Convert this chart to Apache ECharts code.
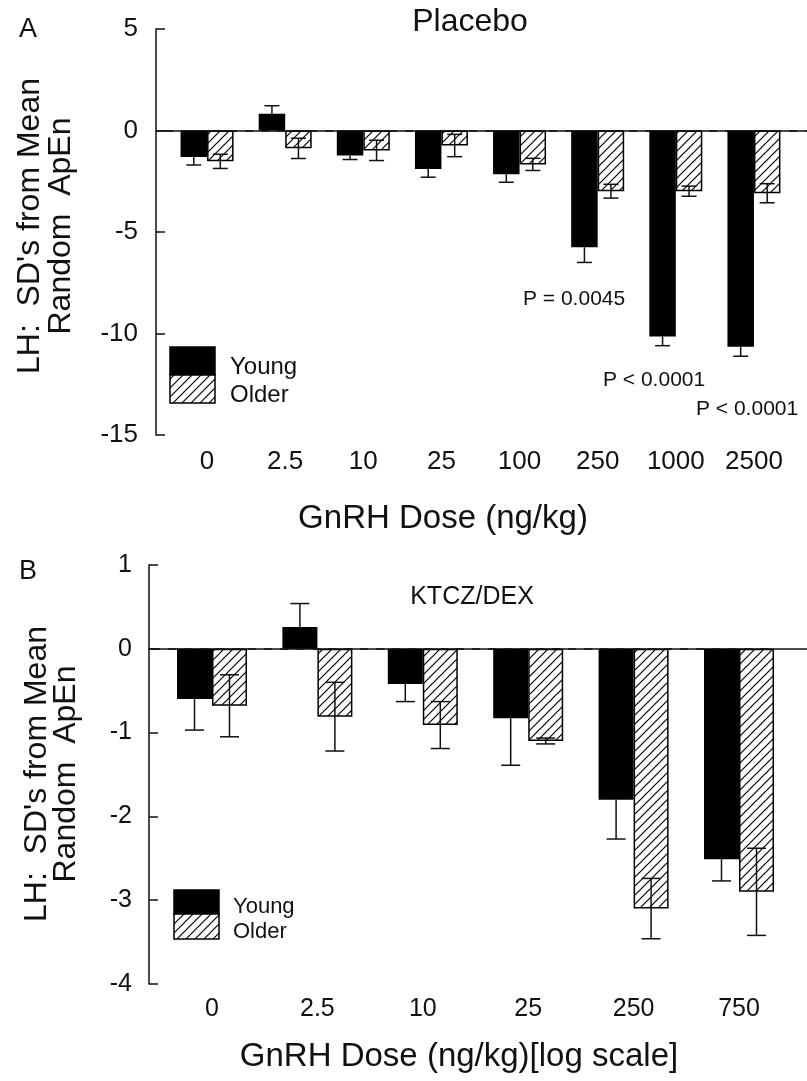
<!DOCTYPE html>
<html>
<head>
<meta charset="utf-8">
<script src="https://cdn.jsdelivr.net/npm/echarts@6/dist/echarts.min.js"></script>
<style>
  html, body { margin: 0; padding: 0; background: #fff; }
  #chart { width: 807px; height: 1081px; }
</style>
</head>
<body>
<div id="chart"></div>
<script>
// 数据
const dosesA = ['0', '2.5', '10', '25', '100', '250', '1000', '2500'];
const youngA = [-1.3, 0.82, -1.23, -1.9, -2.15, -5.75, -10.15, -10.65];
const youngErrA = [0.4, 0.4, 0.2, 0.4, 0.4, 0.75, 0.45, 0.47];
const olderA = [-1.52, -0.88, -0.98, -0.74, -1.67, -2.99, -2.99, -3.09];
const olderErrA = [0.35, 0.5, 0.5, 0.55, 0.3, 0.34, 0.25, 0.47];

const dosesB = ['0', '2.5', '10', '25', '250', '750'];
const youngB = [-0.6, 0.26, -0.42, -0.83, -1.8, -2.51];
const youngErrB = [0.37, 0.28, 0.21, 0.56, 0.47, 0.26];
const olderB = [-0.68, -0.81, -0.91, -1.1, -3.1, -2.9];
const olderErrB = [0.37, 0.41, 0.28, 0.035, 0.36, 0.52];

const yRangeA = { min: -15, max: 5, interval: 5 };
const yRangeB = { min: -4, max: 1, interval: 1 };

const FONT = '"Liberation Sans", Arial, sans-serif';
const INK = '#111';

// 斜线填充
function hatch(step, lw) {
  const c = document.createElement('canvas');
  c.width = c.height = step;
  const g = c.getContext('2d');
  g.fillStyle = '#fff';
  g.fillRect(0, 0, step, step);
  g.strokeStyle = '#000';
  g.lineWidth = lw;
  g.beginPath();
  g.moveTo(0, step); g.lineTo(step, 0);
  g.moveTo(-step / 2, step / 2); g.lineTo(step / 2, -step / 2);
  g.moveTo(step / 2, step * 1.5); g.lineTo(step * 1.5, step / 2);
  g.stroke();
  return { image: c, repeat: 'repeat' };
}
const hatchFill = hatch(9, 1.2);

// 误差线 (outwardOnly: 黑色柱子只画外侧一半)
function errRender(side, barW, cap, outwardOnly) {
  return function (params, api) {
    const i = api.value(0), v = api.value(1), e = api.value(2);
    const out = v >= 0 ? v + e : v - e;
    const inn = outwardOnly ? v : (v >= 0 ? v - e : v + e);
    const p1 = api.coord([i, out]);
    const p0 = api.coord([i, inn]);
    const x = p1[0] + side * barW / 2;
    const st = { stroke: INK, lineWidth: 1.5 };
    const kids = [
      { type: 'line', shape: { x1: x, y1: p0[1], x2: x, y2: p1[1] }, style: st },
      { type: 'line', shape: { x1: x - cap / 2, y1: p1[1], x2: x + cap / 2, y2: p1[1] }, style: st }
    ];
    if (!outwardOnly) {
      kids.push({ type: 'line', shape: { x1: x - cap / 2, y1: p0[1], x2: x + cap / 2, y2: p0[1] }, style: st });
    }
    return { type: 'group', children: kids };
  };
}

function catAxis(grid, data, fontSize, margin) {
  return {
    type: 'category', gridIndex: grid, data: data,
    axisLine: { show: false },
    axisTick: { inside: true, alignWithLabel: true, length: 9, lineStyle: { color: INK, width: 1.5 } },
    axisLabel: { fontSize: fontSize, fontFamily: FONT, color: INK, margin: margin }
  };
}
function frameX(grid) {
  return {
    type: 'value', gridIndex: grid, min: 0, max: 1,
    axisLine: { show: true, lineStyle: { color: INK, width: 1.5 } },
    axisTick: { show: false }, axisLabel: { show: false }, splitLine: { show: false }
  };
}
function hiddenY(grid, r) {
  return { type: 'value', gridIndex: grid, min: r.min, max: r.max, show: false, splitLine: { show: false } };
}
function frameY(grid, r, fontSize, margin) {
  return {
    type: 'value', gridIndex: grid, min: r.min, max: r.max, interval: r.interval,
    axisLine: { show: true, lineStyle: { color: INK, width: 1.5 } },
    axisTick: { show: true, inside: true, length: 9, lineStyle: { color: INK, width: 1.5 } },
    axisLabel: { fontSize: fontSize, fontFamily: FONT, color: INK, margin: margin },
    splitLine: { show: false }
  };
}

function barSeries(x, y, data, fill, w) {
  return {
    type: 'bar', xAxisIndex: x, yAxisIndex: y, data: data,
    barWidth: w, barGap: '0%',
    itemStyle: { color: fill, borderColor: '#000', borderWidth: 1.5 },
    silent: true, z: 2
  };
}
function errSeries(x, y, vals, errs, side, w, cap, outwardOnly) {
  return {
    type: 'custom', xAxisIndex: x, yAxisIndex: y,
    data: vals.map((v, i) => [i, v, errs[i]]),
    renderItem: errRender(side, w, cap, outwardOnly), silent: true, z: 5
  };
}
const dashStyle = { type: [8, 8], color: INK, width: 1.5 };

const BW_A = 26.5, BW_B = 35;

const option = {
  animation: false,
  backgroundColor: '#fff',
  grid: [
    { left: 168, width: 625, top: 29, height: 406 },
    { left: 156, right: 0, top: 29, height: 406 },
    { left: 159.3, width: 632.4, top: 565, height: 419 },
    { left: 149, right: 0, top: 565, height: 419 }
  ],
  xAxis: [
    catAxis(0, dosesA, 26, 14),
    frameX(1),
    catAxis(2, dosesB, 25, 13),
    frameX(3)
  ],
  yAxis: [
    hiddenY(0, yRangeA),
    frameY(1, yRangeA, 26, 18),
    hiddenY(2, yRangeB),
    frameY(3, yRangeB, 25, 17)
  ],
  series: [
    barSeries(0, 0, youngA, '#000', BW_A),
    barSeries(0, 0, olderA, hatchFill, BW_A),
    errSeries(0, 0, youngA, youngErrA, -1, BW_A, 15, true),
    errSeries(0, 0, olderA, olderErrA, 1, BW_A, 15, false),
    {
      type: 'line', xAxisIndex: 1, yAxisIndex: 1, data: [], silent: true,
      markLine: { symbol: 'none', silent: true, label: { show: false }, lineStyle: dashStyle,
        data: [[{ coord: [0.014, 0] }, { coord: [1, 0] }]] }
    },
    barSeries(2, 2, youngB, '#000', BW_B),
    barSeries(2, 2, olderB, hatchFill, BW_B),
    errSeries(2, 2, youngB, youngErrB, -1, BW_B, 19, true),
    errSeries(2, 2, olderB, olderErrB, 1, BW_B, 19, false),
    {
      type: 'line', xAxisIndex: 3, yAxisIndex: 3, data: [], silent: true,
      markLine: { symbol: 'none', silent: true, label: { show: false }, lineStyle: dashStyle,
        data: [[{ coord: [0.005, 0] }, { coord: [0.952, 0] }]] }
    }
  ],
  graphic: [
    // 面板标记与标题
    { type: 'text', left: 19, top: 16, style: { text: 'A', font: '27px ' + FONT, fill: INK } },
    { type: 'text', left: 19, top: 558, style: { text: 'B', font: '27px ' + FONT, fill: INK } },
    { type: 'text', x: 470, y: 22, style: { text: 'Placebo', font: '32px ' + FONT, fill: INK, align: 'center', verticalAlign: 'middle' } },
    { type: 'text', x: 472, y: 597, style: { text: 'KTCZ/DEX', font: '25px ' + FONT, fill: INK, align: 'center', verticalAlign: 'middle' } },
    // 轴标题
    { type: 'text', x: 443, y: 519, style: { text: 'GnRH Dose (ng/kg)', font: '33px ' + FONT, fill: INK, align: 'center', verticalAlign: 'middle' } },
    { type: 'text', x: 459, y: 1057, style: { text: 'GnRH Dose (ng/kg)[log scale]', font: '33px ' + FONT, fill: INK, align: 'center', verticalAlign: 'middle' } },
    { type: 'text', x: 46, y: 226, rotation: Math.PI / 2,
      style: { text: "LH:  SD's from Mean\nRandom  ApEn", font: '32px ' + FONT, lineHeight: 31, fill: INK, align: 'center', verticalAlign: 'middle' } },
    { type: 'text', x: 52, y: 774, rotation: Math.PI / 2,
      style: { text: "LH:  SD's from Mean\nRandom  ApEn", font: '32px ' + FONT, lineHeight: 29, fill: INK, align: 'center', verticalAlign: 'middle' } },
    // P 值
    { type: 'text', x: 523, y: 299, style: { text: 'P = 0.0045', font: '21px ' + FONT, fill: INK, verticalAlign: 'middle' } },
    { type: 'text', x: 603, y: 380, style: { text: 'P < 0.0001', font: '21px ' + FONT, fill: INK, verticalAlign: 'middle' } },
    { type: 'text', x: 696, y: 409, style: { text: 'P < 0.0001', font: '21px ' + FONT, fill: INK, verticalAlign: 'middle' } },
    // 图例 A
    { type: 'rect', shape: { x: 170, y: 347, width: 45, height: 28 }, style: { fill: '#000', stroke: '#000', lineWidth: 1.5 } },
    { type: 'rect', shape: { x: 170, y: 375, width: 45, height: 28 }, style: { fill: hatchFill, stroke: '#000', lineWidth: 1.5 } },
    { type: 'text', x: 230, y: 367, style: { text: 'Young', font: '24px ' + FONT, fill: INK, verticalAlign: 'middle' } },
    { type: 'text', x: 230, y: 395, style: { text: 'Older', font: '24px ' + FONT, fill: INK, verticalAlign: 'middle' } },
    // 图例 B
    { type: 'rect', shape: { x: 174, y: 890, width: 45, height: 24 }, style: { fill: '#000', stroke: '#000', lineWidth: 1.5 } },
    { type: 'rect', shape: { x: 174, y: 914, width: 45, height: 25 }, style: { fill: hatchFill, stroke: '#000', lineWidth: 1.5 } },
    { type: 'text', x: 233, y: 907, style: { text: 'Young', font: '22px ' + FONT, fill: INK, verticalAlign: 'middle' } },
    { type: 'text', x: 233, y: 932, style: { text: 'Older', font: '22px ' + FONT, fill: INK, verticalAlign: 'middle' } }
  ]
};

const chart = echarts.init(document.getElementById('chart'));
chart.setOption(option);
</script>
</body>
</html>
